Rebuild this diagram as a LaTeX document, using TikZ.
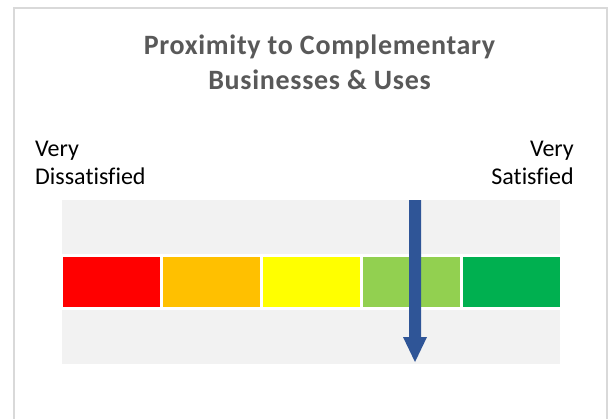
\documentclass[tikz,border=0pt]{standalone}
\usepackage{fontspec}
\setmainfont{Carlito}[Ligatures=NoCommon]
\newfontfamily\titlefont{Carlito}[Ligatures=NoCommon, LetterSpace=2.5]
\definecolor{framegrey}{HTML}{D9D9D9}
\definecolor{bandgrey}{HTML}{F2F2F2}
\definecolor{titlegrey}{HTML}{595959}
\definecolor{cred}{HTML}{FF0000}
\definecolor{corange}{HTML}{FFC000}
\definecolor{cyellow}{HTML}{FFFF00}
\definecolor{clgreen}{HTML}{92D050}
\definecolor{cgreen}{HTML}{00B050}
\definecolor{arrowblue}{HTML}{2F5597}
\begin{document}
\begin{tikzpicture}[x=1pt,y=-1pt,
  titletext/.style={font=\titlefont\fontsize{28}{32}\selectfont\bfseries, text=titlegrey, inner sep=0pt, anchor=base},
  labeltext/.style={font=\fontsize{24}{28}\selectfont, text=black, inner sep=0pt},
  block/.style={minimum width=97pt, minimum height=50pt, inner sep=0pt, anchor=north west}]
\useasboundingbox (0,0) rectangle (609,418);
\fill[white] (0,0) rectangle (609,418);
\draw[framegrey, line width=2pt] (14,425) -- (14,8) -- (607,8) -- (607,425);
% band
\node[fill=bandgrey, minimum width=498pt, minimum height=164pt, inner sep=0pt, anchor=north west] (band) at (62,200) {};
\fill[white] (62,254) rectangle (560,310);
\node[block, fill=cred] (b1) at (63,257) {};
\node[block, fill=corange] (b2) at (163,257) {};
\node[block, fill=cyellow] (b3) at (263,257) {};
\node[block, fill=clgreen] (b4) at (363,257) {};
\node[block, fill=cgreen] (b5) at (463,257) {};
% arrow
\fill[arrowblue] (409,200) -- (421,200) -- (421,337) -- (427,337) -- (415,362) -- (403,337) -- (409,337) -- cycle;
% title
\node[titletext] (t1) at (319.5,54) {Proximity to Complementary};
\node[titletext] (t2) at (319.5,89) {Businesses \& Uses};
% labels
\node[labeltext, anchor=base west] (l1) at (35,156) {Very};
\node[labeltext, anchor=base west] (l2) at (35,184) {Dissatisfied};
\node[labeltext, anchor=base east] (r1) at (574,156) {Very};
\node[labeltext, anchor=base east] (r2) at (574,184) {Satisfied};
\end{tikzpicture}
\end{document}
